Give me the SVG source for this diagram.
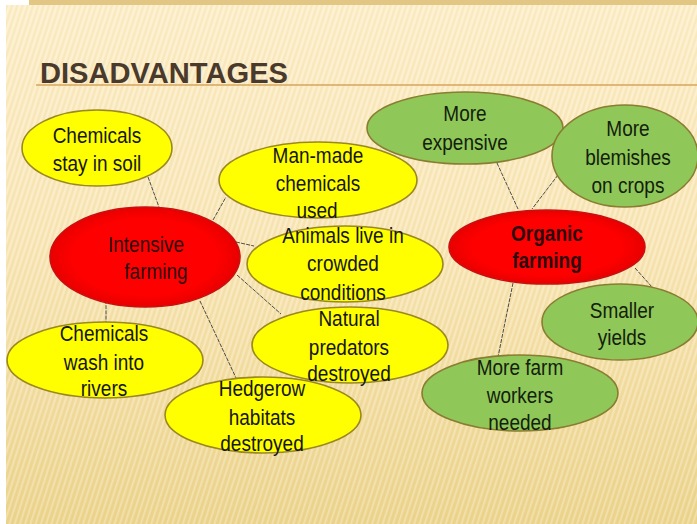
<svg xmlns="http://www.w3.org/2000/svg" width="697" height="524" viewBox="0 0 697 524">
<defs>
<linearGradient id="bg" x1="0" y1="0" x2="0" y2="1">
<stop offset="0" stop-color="#fdeec8"/>
<stop offset="0.45" stop-color="#f9e6b6"/>
<stop offset="1" stop-color="#ecd48c"/>
</linearGradient>
<pattern id="stripes" width="5" height="40" patternUnits="userSpaceOnUse" patternTransform="rotate(18)">
<rect x="0" y="0" width="1.6" height="40" fill="#ffffff" opacity="0.3"/>
<rect x="2.5" y="0" width="1.2" height="40" fill="#d8b870" opacity="0.15"/>
</pattern>
<radialGradient id="redg" cx="0.5" cy="0.5" r="0.5">
<stop offset="0.75" stop-color="#ff0000"/>
<stop offset="1" stop-color="#e80000"/>
</radialGradient>
</defs>
<style>
.y{fill:#ffff00;stroke:#9a8820;stroke-width:1.6}
.g{fill:#8fc859;stroke:#8a7c30;stroke-width:1.6}
.r{fill:url(#redg);stroke:#c81010;stroke-width:1.6}
.t{font-family:"Liberation Sans",Arial,sans-serif;font-size:19px;text-anchor:middle;fill:#161616;transform-box:fill-box;transform-origin:center;transform:scaleY(1.15)}
.tg{fill:#14200c}
.tr{fill:#2e0a10}
.b{font-weight:bold}
.c{stroke:#3a3a3a;stroke-width:0.9;fill:none;stroke-dasharray:4 1.2}
</style>
<rect x="0" y="0" width="697" height="524" fill="#ffffff"/>
<rect x="29" y="0" width="668" height="6" fill="#e2c683"/>
<rect x="6" y="5" width="691" height="519" fill="url(#bg)"/>
<rect x="6" y="5" width="691" height="519" fill="url(#stripes)"/>
<line x1="36" y1="85" x2="697" y2="85" stroke="#d9a45c" stroke-width="1.3"/>
<text x="40" y="83" font-family="'Liberation Sans Narrow','Liberation Sans',Arial,sans-serif" font-size="29" font-weight="bold" fill="#4a3a2c" textLength="248" lengthAdjust="spacingAndGlyphs">DISADVANTAGES</text>
<g id="connectors">
<line class="c" x1="148" y1="177" x2="159" y2="207"/>
<line class="c" x1="213" y1="220" x2="226" y2="197"/>
<line class="c" x1="236" y1="242" x2="254" y2="246"/>
<line class="c" x1="237" y1="275" x2="281" y2="314"/>
<line class="c" x1="106" y1="300" x2="106" y2="323"/>
<line class="c" x1="200" y1="301" x2="237" y2="380"/>
<line class="c" x1="497" y1="163" x2="518" y2="209"/>
<line class="c" x1="558" y1="175" x2="532" y2="209"/>
<line class="c" x1="635" y1="268" x2="652" y2="287"/>
<line class="c" x1="513" y1="283" x2="498" y2="357"/>
</g>
<g id="soil">
<ellipse class="y" cx="97" cy="148" rx="75" ry="38"/>
<text class="t" x="97" y="142">Chemicals</text>
<text class="t" x="97" y="170">stay in soil</text>
</g>
<g id="intensive">
<ellipse class="r" cx="145" cy="257" rx="95" ry="50"/>
<text class="t tr" x="146" y="251">Intensive</text>
<text class="t tr" x="156" y="278">farming</text>
</g>
<g id="manmade">
<ellipse class="y" cx="318" cy="180" rx="99" ry="38"/>
<text class="t" x="318" y="162">Man-made</text>
<text class="t" x="318" y="190">chemicals</text>
<text class="t" x="317" y="217">used</text>
</g>
<g id="animals">
<ellipse class="y" cx="345" cy="264" rx="98" ry="38"/>
<text class="t" x="343" y="242">Animals live in</text>
<text class="t" x="343" y="270">crowded</text>
<text class="t" x="343" y="299">conditions</text>
</g>
<g id="washrivers">
<ellipse class="y" cx="105" cy="360" rx="98" ry="38"/>
<text class="t" x="104" y="340">Chemicals</text>
<text class="t" x="104" y="369">wash into</text>
<text class="t" x="104" y="395">rivers</text>
</g>
<g id="hedgerow">
<ellipse class="y" cx="263" cy="415" rx="98" ry="38"/>
<text class="t" x="262" y="395">Hedgerow</text>
<text class="t" x="262" y="424">habitats</text>
<text class="t" x="262" y="450">destroyed</text>
</g>
<g id="predators">
<ellipse class="y" cx="350" cy="345" rx="98" ry="38"/>
<text class="t" x="349" y="325">Natural</text>
<text class="t" x="349" y="354">predators</text>
<text class="t" x="349" y="380">destroyed</text>
</g>
<g id="expensive">
<ellipse class="g" cx="465" cy="128" rx="98" ry="36"/>
<text class="t tg" x="465" y="120">More</text>
<text class="t tg" x="465" y="149">expensive</text>
</g>
<g id="blemishes">
<ellipse class="g" cx="625" cy="156" rx="73" ry="51"/>
<text class="t tg" x="628" y="135">More</text>
<text class="t tg" x="628" y="164">blemishes</text>
<text class="t tg" x="628" y="192">on crops</text>
</g>
<g id="organic">
<ellipse class="r" cx="547" cy="247" rx="98" ry="37"/>
<text class="t tr b" x="547" y="240">Organic</text>
<text class="t tr b" x="547" y="267">farming</text>
</g>
<g id="yields">
<ellipse class="g" cx="620" cy="322" rx="78" ry="38"/>
<text class="t tg" x="622" y="317">Smaller</text>
<text class="t tg" x="622" y="344">yields</text>
</g>
<g id="workers">
<ellipse class="g" cx="520" cy="393" rx="98" ry="38"/>
<text class="t tg" x="520" y="374">More farm</text>
<text class="t tg" x="520" y="402">workers</text>
<text class="t tg" x="520" y="429">needed</text>
</g>
</svg>
